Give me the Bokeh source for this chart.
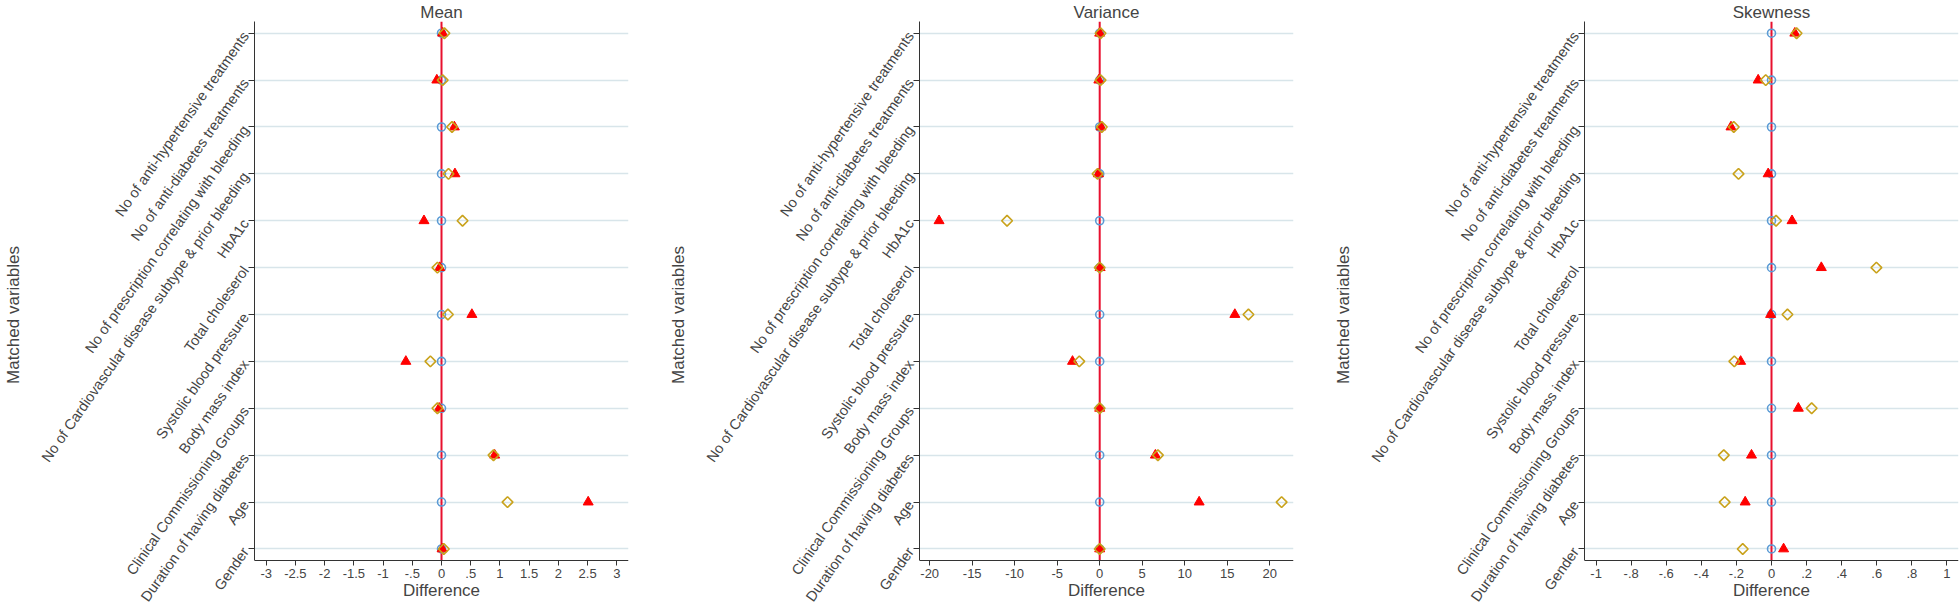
import math
from bokeh.plotting import figure
from bokeh.models import Range1d, FixedTicker
from bokeh.layouts import row
from bokeh.embed import file_html
from bokeh.resources import INLINE

variables = [
    "No of anti-hypertensive treatments",
    "No of anti-diabetes treatments",
    "No of prescription correlating with bleeding",
    "No of Cardiovascular disease subtype & prior bleeding",
    "HbA1c",
    "Total choleserol",
    "Systolic blood pressure",
    "Body mass index",
    "Clinical Commissioning Groups",
    "Duration of having diabetes",
    "Age",
    "Gender",
]
positions = list(range(1, 13))

# reference series (all zero)
reference_vals = [0, 0, 0, 0, 0, 0, 0, 0, 0, 0, 0, 0]

mean_diamond = [0.05, 0.02, 0.18, 0.12, 0.36, -0.07, 0.11, -0.19, -0.07, 0.89, 1.13, 0.04]
mean_triangle = [0.02, -0.08, 0.22, 0.23, -0.30, -0.03, 0.52, -0.61, -0.04, 0.91, 2.51, 0.01]

var_diamond = [0.1, 0.1, 0.25, -0.25, -10.9, 0.0, 17.5, -2.4, 0.0, 6.85, 21.4, 0.0]
var_triangle = [0.0, -0.1, 0.15, -0.15, -18.9, 0.05, 15.9, -3.2, 0.0, 6.55, 11.7, 0.0]

skew_diamond = [0.143, -0.033, -0.215, -0.188, 0.026, 0.598, 0.091, -0.212, 0.229, -0.272, -0.267, -0.164]
skew_triangle = [0.133, -0.076, -0.231, -0.019, 0.117, 0.284, -0.005, -0.176, 0.153, -0.114, -0.150, 0.069]

mean_ticks = [-3, -2.5, -2, -1.5, -1, -0.5, 0, 0.5, 1, 1.5, 2, 2.5, 3]
mean_labels = ["-3", "-2.5", "-2", "-1.5", "-1", "-.5", "0", ".5", "1", "1.5", "2", "2.5", "3"]
var_ticks = [-20, -15, -10, -5, 0, 5, 10, 15, 20]
var_labels = ["-20", "-15", "-10", "-5", "0", "5", "10", "15", "20"]
skew_ticks = [-1, -0.8, -0.6, -0.4, -0.2, 0, 0.2, 0.4, 0.6, 0.8, 1]
skew_labels = ["-1", "-.8", "-.6", "-.4", "-.2", "0", ".2", ".4", ".6", ".8", "1"]

FONT = "Liberation Sans"
BLUE = "#5B9BD5"
GOLD = "#C9A21B"
RED = "#FF0000"
LINE_RED = "#E8102E"

# vertical layout (in row units): plot region top, x-axis position, canvas bottom
Y_TOP = 0.75
Y_AXIS = 12.25
Y_BOTTOM = 13.27


def panel(title, xr, ticks, labels, diamond, triangle, width, right):
    p = figure(width=width, height=608, output_backend="svg", toolbar_location=None,
               x_range=Range1d(*xr), y_range=Range1d(Y_BOTTOM, Y_TOP),
               min_border_left=252, min_border_right=right,
               min_border_top=0, min_border_bottom=0)
    p.outline_line_color = None
    p.background_fill_color = "white"
    p.border_fill_color = "white"
    p.title.text = title
    p.title.align = "center"
    p.title.text_font = FONT
    p.title.text_font_size = "17px"
    p.title.text_font_style = "normal"
    p.title.standoff = 0
    p.title.offset = 0

    p.xgrid.visible = False
    p.ygrid.grid_line_color = "#D8E5EA"
    p.ygrid.grid_line_width = 1.6

    xa = p.xaxis[0]
    xa.fixed_location = Y_AXIS
    xa.ticker = FixedTicker(ticks=ticks)
    xa.major_label_overrides = {t: l for t, l in zip(ticks, labels)}
    xa.axis_label = "Difference"
    xa.axis_label_text_font = FONT
    xa.axis_label_text_font_size = "17px"
    xa.axis_label_text_font_style = "normal"
    xa.axis_label_standoff = 0
    xa.major_label_text_font = FONT
    xa.major_label_text_font_size = "13px"
    xa.major_label_standoff = 3
    xa.minor_tick_line_color = None
    xa.major_tick_in = 0
    xa.major_tick_out = 5
    xa.axis_line_color = "#333333"
    xa.major_tick_line_color = "#333333"

    ya = p.yaxis[0]
    ya.bounds = (Y_TOP, Y_AXIS)
    ya.ticker = FixedTicker(ticks=positions)
    ya.major_label_overrides = {i: v for i, v in zip(positions, variables)}
    ya.major_label_orientation = math.radians(55)
    ya.axis_label = "Matched variables"
    ya.axis_label_text_font = FONT
    ya.axis_label_text_font_size = "17px"
    ya.axis_label_text_font_style = "normal"
    ya.axis_label_standoff = 6
    ya.major_label_text_font = FONT
    ya.major_label_text_font_size = "14.5px"
    ya.major_label_standoff = 3
    ya.minor_tick_line_color = None
    ya.major_tick_in = 0
    ya.major_tick_out = 6
    ya.axis_line_color = "#333333"
    ya.major_tick_line_color = "#333333"

    # zero reference line across the plotted rows
    p.segment(x0=[0], y0=[Y_TOP], x1=[0], y1=[Y_AXIS], line_color=LINE_RED, line_width=2)

    p.scatter(reference_vals, positions, marker="circle", size=8, fill_color=None,
              line_color=BLUE, line_width=1.6)
    p.scatter(triangle, positions, marker="triangle", size=10, fill_color=RED,
              line_color=RED, line_width=1)
    p.scatter(diamond, positions, marker="square", angle=math.pi / 4, size=7.6,
              fill_color=None, line_color=GOLD, line_width=1.6)
    return p


p1 = panel("Mean", (-3.2, 3.2), mean_ticks, mean_labels, mean_diamond, mean_triangle, 665, 37)
p2 = panel("Variance", (-21.2, 22.8), var_ticks, var_labels, var_diamond, var_triangle, 665, 37)
p3 = panel("Skewness", (-1.066, 1.066), skew_ticks, skew_labels, skew_diamond, skew_triangle, 630, 2)

layout = row(p1, p2, p3, spacing=0)
open("out.html", "w").write(file_html(layout, INLINE))
